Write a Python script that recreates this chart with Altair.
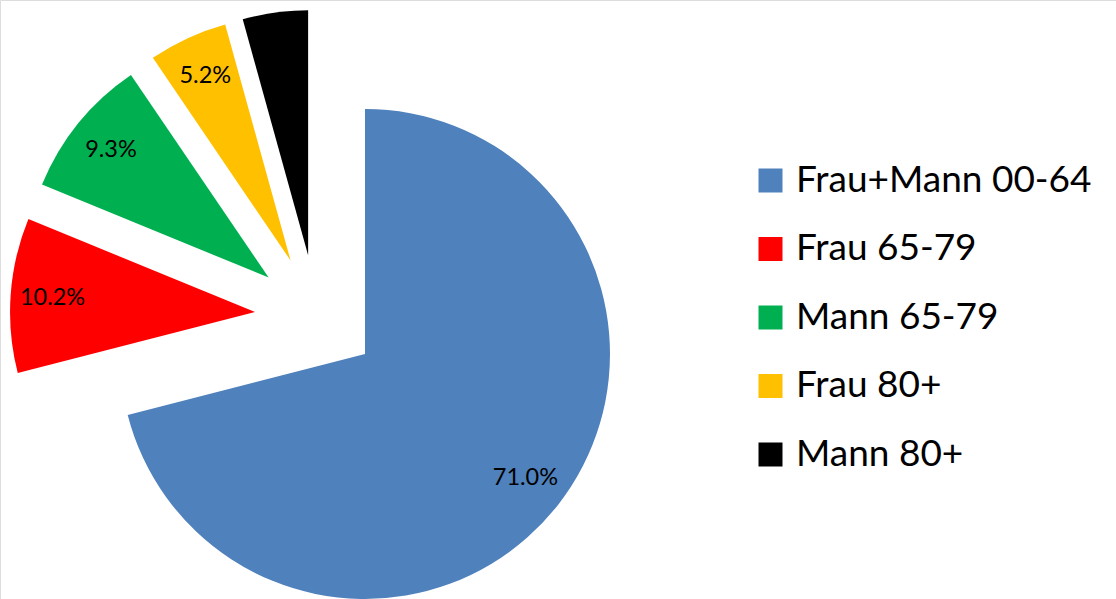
import altair as alt
import pandas as pd

categories = ["Frau+Mann 00-64", "Frau 65-79", "Mann 65-79", "Frau 80+", "Mann 80+"]
shares = [71.0, 10.2, 9.3, 5.2, 4.3]
colors = ["#4F81BD", "#FF0000", "#00B050", "#FFC000", "#000000"]
show_label = [True, True, True, True, False]

df = pd.DataFrame({
    "cat": categories,
    "value": shares,
    "order": list(range(len(categories))),
    "show": show_label,
})

CX, CY, R, EXPLODE, LABEL_R = 316.4, 316.3, 245, 61.5, 203

base = alt.Chart(df).transform_joinaggregate(
    total="sum(value)"
).transform_window(
    cum="sum(value)", sort=[alt.SortField("order")], frame=[None, 0]
).transform_calculate(
    t1="2*PI*datum.cum/datum.total",
    t0="2*PI*(datum.cum-datum.value)/datum.total",
).transform_calculate(
    mid="(datum.t0+datum.t1)/2",
).transform_calculate(
    cx=f"{CX}+{EXPLODE}*sin(datum.mid)",
    cy=f"{CY}-{EXPLODE}*cos(datum.mid)",
).transform_calculate(
    lx=f"datum.cx+{LABEL_R}*sin(datum.mid)",
    ly=f"datum.cy-{LABEL_R}*cos(datum.mid)",
    label="format(datum.value, '.1f') + '%'",
)

arcs = base.mark_arc(radius=R, stroke=None).encode(
    x=alt.X("cx:Q", scale=None),
    y=alt.Y("cy:Q", scale=None),
    theta=alt.Theta("t0:Q", scale=None),
    theta2="t1:Q",
    color=alt.Color(
        "cat:N",
        scale=alt.Scale(domain=categories, range=colors),
        sort=categories,
        legend=alt.Legend(
            title=None,
            orient="none",
            legendX=752,
            legendY=162,
            symbolType="square",
            symbolSize=576,
            symbolStrokeWidth=0,
            symbolOpacity=1,
            labelFont="Lato",
            labelFontSize=37,
            labelColor="#000000",
            labelLimit=600,
            labelOffset=7,
            rowPadding=30.5,
            padding=0,
        ),
    ),
)

labels = base.transform_filter("datum.show").mark_text(
    font="Lato", fontSize=23.5, color="#000000", align="center", baseline="middle"
).encode(
    x=alt.X("lx:Q", scale=None),
    y=alt.Y("ly:Q", scale=None),
    text="label:N",
)

chart = alt.layer(arcs, labels).properties(
    width=1116, height=599, autosize=alt.AutoSizeParams(type="none"), padding=0
).configure_view(stroke=None).configure(background="#ffffff")

chart.save("out.html", embed_options={"renderer": "svg", "actions": False})
